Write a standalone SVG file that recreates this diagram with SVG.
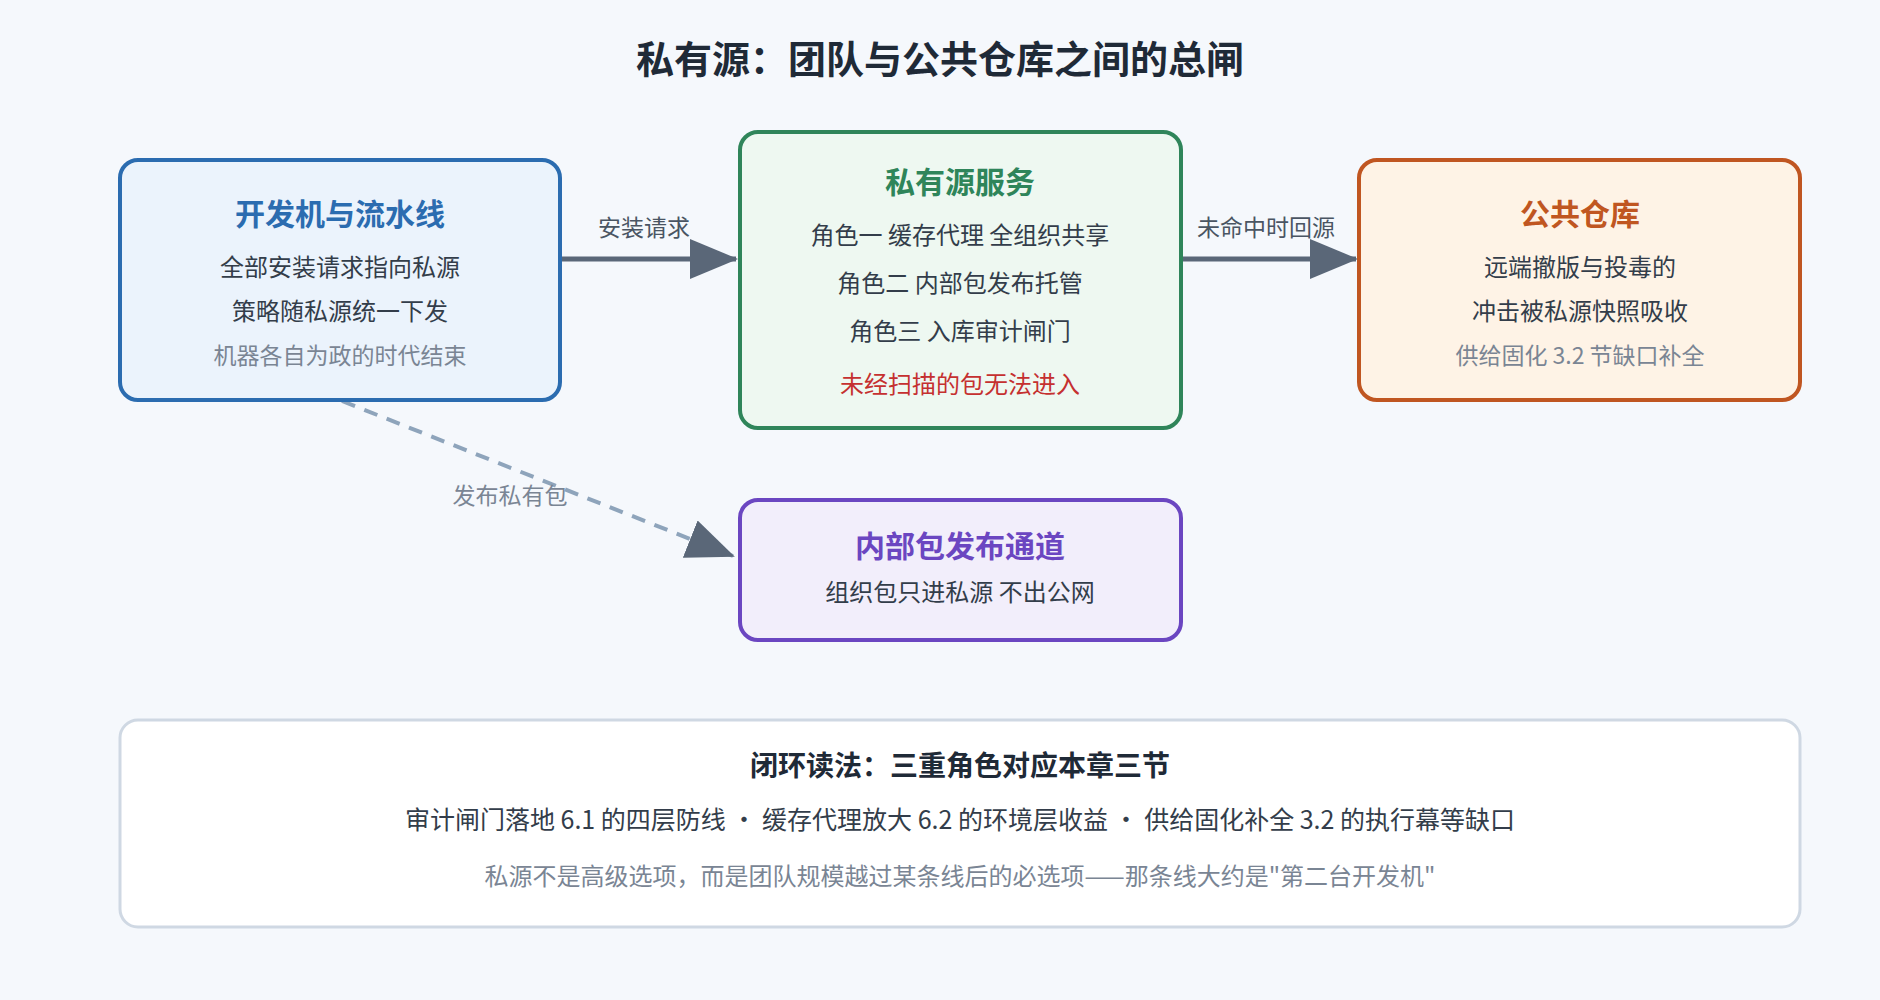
<svg xmlns="http://www.w3.org/2000/svg" width="1880" height="1000" viewBox="0 0 1880 1000">
<defs>
<style>
text{font-family:"Noto Sans CJK SC","Noto Sans",sans-serif;text-anchor:middle}
.t{font-size:30px;font-weight:bold}
.b{font-size:24px;fill:#333d4a}
.g{font-size:23px;fill:#7a8594}
.l{font-size:23px;fill:#4a5563}
</style>
<marker id="a" markerWidth="48" markerHeight="40" refX="46" refY="20" orient="auto" markerUnits="userSpaceOnUse"><path d="M0,0 L48,20 L0,40 Z" fill="#5a6778"/></marker>
</defs>
<rect width="1880" height="1000" fill="#f5f8fc"/>
<text x="940" y="73" style="font-size:38px;font-weight:bold;fill:#1f2a37">私有源：团队与公共仓库之间的总闸</text>
<g id="connectors">
<line x1="561" y1="259" x2="736" y2="259" stroke="#5a6778" stroke-width="5" marker-end="url(#a)"/>
<text class="l" x="644" y="236">安装请求</text>
<line x1="1182" y1="259" x2="1356" y2="259" stroke="#5a6778" stroke-width="5" marker-end="url(#a)"/>
<text class="l" x="1266" y="236">未命中时回源</text>
<line x1="342" y1="401" x2="733" y2="556" stroke="#8ea4bb" stroke-width="4" stroke-dasharray="14,10" marker-end="url(#a)"/>
<text class="g" x="510" y="504">发布私有包</text>
</g>
<g id="dev">
<rect x="120" y="160" width="440" height="240" rx="18" fill="#ebf3fc" stroke="#2b6cb0" stroke-width="4"/>
<text class="t" x="340" y="225" fill="#2b6cb0">开发机与流水线</text>
<text class="b" x="340" y="276">全部安装请求指向私源</text>
<text class="b" x="340" y="320">策略随私源统一下发</text>
<text class="g" x="340" y="364">机器各自为政的时代结束</text>
</g>
<g id="private">
<rect x="740" y="132" width="441" height="296" rx="18" fill="#eef8f1" stroke="#2f855a" stroke-width="4"/>
<text class="t" x="960" y="193" fill="#2f855a">私有源服务</text>
<text class="b" x="960" y="244">角色一 缓存代理 全组织共享</text>
<text class="b" x="960" y="292">角色二 内部包发布托管</text>
<text class="b" x="960" y="340">角色三 入库审计闸门</text>
<text class="b" x="960" y="393" style="fill:#c53030">未经扫描的包无法进入</text>
</g>
<g id="public">
<rect x="1359" y="160" width="441" height="240" rx="18" fill="#fef3e6" stroke="#c05621" stroke-width="4"/>
<text class="t" x="1580" y="225" fill="#c05621">公共仓库</text>
<text class="b" x="1580" y="276">远端撤版与投毒的</text>
<text class="b" x="1580" y="320">冲击被私源快照吸收</text>
<text class="g" x="1580" y="364">供给固化 3.2 节缺口补全</text>
</g>
<g id="internal">
<rect x="740" y="500" width="441" height="140" rx="18" fill="#f2eefb" stroke="#6b46c1" stroke-width="4"/>
<text class="t" x="960" y="557" fill="#6b46c1">内部包发布通道</text>
<text class="b" x="960" y="601">组织包只进私源 不出公网</text>
</g>
<g id="summary">
<rect x="120" y="720" width="1680" height="207" rx="18" fill="#ffffff" stroke="#cfd8e3" stroke-width="3"/>
<text x="960" y="776" style="font-size:28px;font-weight:bold;fill:#1f2a37">闭环读法：三重角色对应本章三节</text>
<text x="960" y="829" style="font-size:25px;fill:#333d4a">审计闸门落地 6.1 的四层防线 · 缓存代理放大 6.2 的环境层收益 · 供给固化补全 3.2 的执行幕等缺口</text>
<text x="960" y="885" style="font-size:24px;fill:#7a8594">私源不是高级选项，而是团队规模越过某条线后的必选项——那条线大约是"第二台开发机"</text>
</g>
</svg>
